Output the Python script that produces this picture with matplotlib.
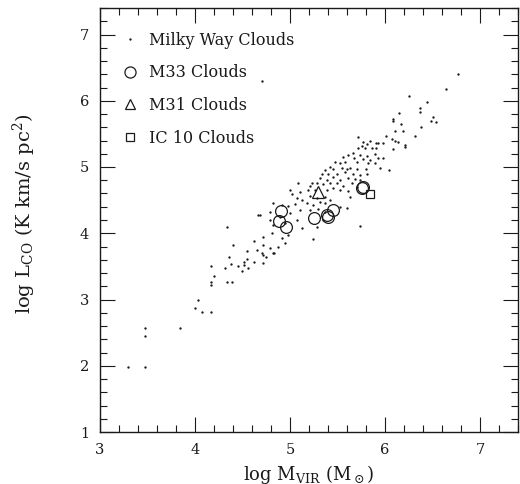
import matplotlib
matplotlib.use("Agg")
from matplotlib import pyplot as plt
from matplotlib.lines import Line2D
from matplotlib.ticker import MultipleLocator

plt.rcParams['font.family'] = ['DejaVu Serif']
plt.rcParams['mathtext.fontset'] = 'dejavuserif'

# Milky Way clouds: log M_VIR, log L_CO
mw_log_mvir = [
    # low-mass tail
    3.29, 3.47, 3.47, 3.47, 3.84, 4.00, 4.03, 4.07, 4.17, 4.17, 4.17, 4.20, 4.17, 4.32, 4.34,
    4.39, 4.36, 4.38, 4.45, 4.49, 4.52, 4.52, 4.56, 4.55, 4.62, 4.72, 4.75, 4.83, 4.70, 4.65,
    4.66, 4.34, 4.40, 4.62, 4.55,
    # middle of the band
    5.56, 5.61, 5.47, 5.53, 5.58, 5.42, 5.37, 5.45, 5.55, 5.60, 5.34, 5.40, 5.49, 5.58,
    5.32, 5.39, 5.45, 5.53, 5.61, 5.23, 5.28, 5.35, 5.42, 5.49, 5.56, 5.08, 5.21,
    5.00, 5.02, 5.11, 5.19, 5.26, 5.39, 5.45, 5.53, 5.61, 5.63, 5.07, 5.13, 5.21, 5.28,
    5.37, 5.42, 4.82, 4.92, 4.98, 5.05, 5.18, 5.24, 5.32, 5.37, 4.68, 4.79, 4.89, 5.00,
    5.11, 5.21, 5.29, 5.37, 5.53, 5.60, 4.79, 4.82, 4.95, 5.07, 5.13, 5.28, 5.35, 5.74,
    5.24, 4.72, 4.81, 4.92, 4.98, 4.72, 4.79, 4.87, 4.95, 4.72, 4.82,
    # upper part
    6.77, 6.64, 6.25, 6.44, 6.37, 6.37, 6.15, 6.08, 6.08, 6.50, 6.48, 6.54, 6.17, 6.19,
    6.10, 6.38, 6.01, 6.32, 5.72, 5.84, 6.07, 6.11, 6.14, 5.93, 5.98, 5.90, 6.21, 6.21,
    5.77, 5.81, 5.76, 5.72, 5.79, 5.86, 5.90, 6.08, 5.66, 5.74, 5.81, 5.89, 5.67, 5.77,
    5.84, 5.93, 5.98, 5.70, 5.82, 5.89, 5.95, 6.04, 5.63, 5.71, 5.80, 5.66, 5.74, 5.81,
    5.68, 5.74, 5.65, 5.70,
    4.70,
]
mw_log_lco = [
    1.98, 1.98, 2.45, 2.57, 2.57, 2.87, 3.00, 2.81, 2.81, 3.22, 3.26, 3.35, 3.50, 3.47, 3.26,
    3.26, 3.64, 3.53, 3.50, 3.43, 3.52, 3.57, 3.47, 3.61, 3.57, 3.55, 3.64, 3.70, 3.70, 3.74,
    4.27, 4.09, 3.82, 3.88, 3.73,
    5.15, 5.18, 5.07, 5.06, 5.07, 5.00, 4.95, 4.97, 4.98, 4.97, 4.90, 4.89, 4.90, 4.92,
    4.83, 4.80, 4.85, 4.80, 4.83, 4.76, 4.76, 4.74, 4.76, 4.76, 4.72, 4.76, 4.72,
    4.66, 4.60, 4.62, 4.65, 4.66, 4.65, 4.68, 4.65, 4.64, 4.54, 4.53, 4.50, 4.56, 4.53,
    4.54, 4.50, 4.45, 4.42, 4.41, 4.44, 4.45, 4.42, 4.47, 4.45, 4.27, 4.32, 4.24, 4.30,
    4.35, 4.35, 4.36, 4.32, 4.39, 4.38, 4.20, 4.12, 4.15, 4.20, 4.08, 4.09, 4.20, 4.11,
    3.91, 3.94, 4.00, 3.93, 3.97, 3.82, 3.78, 3.79, 3.85, 3.67, 3.70,
    6.40, 6.17, 6.07, 5.98, 5.89, 5.83, 5.81, 5.72, 5.69, 5.75, 5.69, 5.68, 5.65, 5.55,
    5.54, 5.60, 5.47, 5.47, 5.45, 5.40, 5.43, 5.39, 5.37, 5.36, 5.36, 5.36, 5.33, 5.30,
    5.37, 5.34, 5.31, 5.28, 5.28, 5.28, 5.28, 5.27, 5.21, 5.18, 5.16, 5.19, 5.13, 5.12,
    5.10, 5.13, 5.13, 5.07, 5.06, 5.06, 4.98, 4.95, 4.98, 4.97, 4.97, 4.90, 4.88, 4.89,
    4.82, 4.80, 4.76, 4.70,
    6.30,
]

m33_log_mvir = [4.91, 4.88, 4.96, 5.25, 5.39, 5.45, 5.40, 5.76, 5.77]
m33_log_lco = [4.33, 4.18, 4.09, 4.23, 4.27, 4.35, 4.24, 4.68, 4.70]

m31_log_mvir = [5.29]
m31_log_lco = [4.62]

ic10_log_mvir = [5.84]
ic10_log_lco = [4.60]

ink = '#1a1a1a'

fig = plt.figure(figsize=(5.2, 4.84), dpi=100)
ax = fig.add_axes([100 / 520, 1 - 432 / 484, 418 / 520, 424 / 484])

ax.plot(mw_log_mvir, mw_log_lco, ls='none', marker='o', ms=1.7, mfc=ink, mec='none')
ax.plot(m33_log_mvir, m33_log_lco, ls='none', marker='o', ms=8.5, mfc='none', mec=ink, mew=0.9)
ax.plot(m31_log_mvir, m31_log_lco, ls='none', marker='^', ms=8, mfc='none', mec=ink, mew=0.9)
ax.plot(ic10_log_mvir, ic10_log_lco, ls='none', marker='s', ms=6, mfc='none', mec=ink, mew=0.9)

ax.set_xlim(3, 7.4)
ax.set_ylim(1, 7.4)
ax.xaxis.set_major_locator(MultipleLocator(1))
ax.xaxis.set_minor_locator(MultipleLocator(0.2))
ax.yaxis.set_major_locator(MultipleLocator(1))
ax.yaxis.set_minor_locator(MultipleLocator(0.2))
ax.tick_params(which='both', direction='in', top=True, right=True, width=0.8, color=ink,
               labelsize=10.5, pad=8, labelcolor=ink)
ax.tick_params(which='major', length=11)
ax.tick_params(which='minor', length=5)
for sp in ax.spines.values():
    sp.set_linewidth(1.0)
    sp.set_color(ink)

ax.set_xlabel(r'log M$_{\rm VIR}$ (M$_\odot$)', fontsize=13, color=ink)
ax.set_ylabel(r'log L$_{\rm CO}$ (K km/s pc$^2$)', fontsize=14, color=ink)
ax.xaxis.set_label_coords(0.5, -0.072)
ax.yaxis.set_label_coords(-0.148, 0.515)

handles = [
    Line2D([], [], ls='none', marker='o', ms=1.7, mfc=ink, mec='none'),
    Line2D([], [], ls='none', marker='o', ms=8, mfc='none', mec=ink, mew=0.9),
    Line2D([], [], ls='none', marker='^', ms=7.5, mfc='none', mec=ink, mew=0.9),
    Line2D([], [], ls='none', marker='s', ms=5.5, mfc='none', mec=ink, mew=0.9),
]
labels = ['Milky Way Clouds', 'M33 Clouds', 'M31 Clouds', 'IC 10 Clouds']
ax.legend(handles, labels, loc='upper left', bbox_to_anchor=(0.019, 0.978), frameon=False,
          fontsize=11.5, handlelength=1.0, handletextpad=0.65, labelspacing=0.98,
          borderaxespad=0.5, labelcolor=ink)

fig.savefig('out.png', dpi=100)
